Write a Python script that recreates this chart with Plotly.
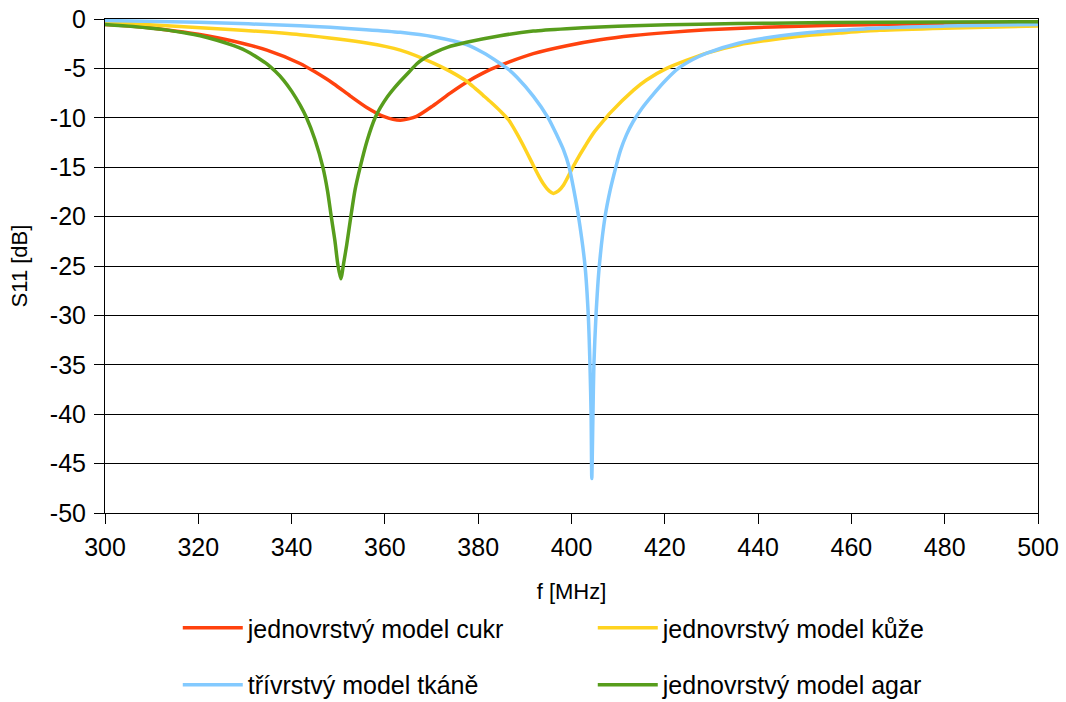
import plotly.graph_objects as go

# Return loss S11 [dB] versus frequency for four phantom models
f_cukr = [300, 306, 313, 320, 327.6, 334.7, 341.8, 345, 349, 352.6, 356.1, 359.7,
          363.3, 366.8, 370.4, 374, 377.5, 381.1, 384.7, 391.8, 399, 406.1, 413.3,
          420.4, 429, 443, 466, 480, 500]
s11_cukr = [-0.55, -0.74, -1.08, -1.55, -2.25, -3.15, -4.5, -5.35, -6.55, -7.8, -8.95, -9.85,
            -10.25, -9.85, -8.75, -7.5, -6.4, -5.45, -4.7, -3.5, -2.7, -2.1, -1.68,
            -1.38, -1.1, -0.8, -0.56, -0.48, -0.42]

f_kuze = [300, 313.3, 327.6, 341.8, 356.1, 363.3, 370.4, 374, 377.5, 379.3, 381, 382.8,
          384.7, 386.5, 388.3, 390, 391.8, 393, 394, 395.2, 396.1, 397.2, 398.3, 400.3,
          401.1, 403, 404.7, 407.4, 408.3, 413.3, 416, 420.4, 429, 436, 443, 450, 457.5,
          466, 480, 500]
s11_kuze = [-0.34, -0.68, -1.08, -1.59, -2.43, -3.15, -4.46, -5.3, -6.3, -7.0, -7.7, -8.45,
            -9.3, -10.2, -11.6, -13.1, -14.8, -15.9, -16.7, -17.4, -17.65, -17.4, -16.8, -15,
            -14.3, -12.8, -11.55, -10, -9.5, -7.2, -6.2, -5.0, -3.45, -2.6, -2.09, -1.69,
            -1.42, -1.15, -0.93, -0.72]

f_tkane = [300, 320, 341.8, 356, 363.3, 370.4, 377.5, 381, 384.7, 386.5, 388.3, 391.8,
           395, 397, 398.25, 399.5, 400.5, 401.5, 402.9, 403.6, 403.96, 404.2, 404.35,
           404.6, 404.8, 405.25, 405.96, 407.2, 408.3, 409.5, 410.5, 411.8, 413.2, 415,
           417.2, 420.4, 422.9, 426, 429, 436, 443, 450, 457.5, 466, 480, 500]
s11_tkane = [-0.15, -0.34, -0.68, -1.08, -1.35, -1.8, -2.6, -3.4, -4.5, -5.1, -5.9, -7.8,
             -10, -11.9, -13.2, -15, -17.3, -20, -25, -30, -35, -40, -46.5,
             -40, -35, -30, -25, -20, -17.3, -15, -13.3, -11.7, -10.4, -9.1,
             -7.8, -6.1, -5.0, -4.1, -3.45, -2.43, -1.82, -1.42, -1.15, -0.9, -0.72, -0.55]

f_agar = [300, 306, 313, 317, 320.4, 324, 327.6, 329.5, 331.1, 333, 334.7, 336.5, 338.3,
          340, 341.8, 343.2, 345, 346.7, 347.7, 348.5, 349.3, 349.9, 350.55, 351.2, 351.8,
          352.7, 353.6, 354.7, 356.2, 357.9, 359, 360.5, 362, 363.3, 365.7, 366.8, 368.5,
          370.4, 373.5, 377.5, 384.7, 391.8, 399, 406.1, 413.3, 427.5, 443, 466, 500]
s11_agar = [-0.55, -0.75, -1.1, -1.4, -1.7, -2.15, -2.7, -3.05, -3.45, -4.0, -4.55, -5.3,
            -6.2, -7.3, -8.7, -10, -12.2, -15, -17.4, -20, -22.5, -24.8, -26.3, -24.6,
            -22.9, -20, -17.3, -15, -12.3, -10, -9.0, -7.9, -7.0, -6.3, -5.1, -4.55, -3.95,
            -3.45, -2.85, -2.36, -1.69, -1.22, -0.98, -0.81, -0.68, -0.52, -0.42, -0.32, -0.28]

x_ticks = [300, 320, 340, 360, 380, 400, 420, 440, 460, 480, 500]
y_ticks = [0, -5, -10, -15, -20, -25, -30, -35, -40, -45, -50]
y_tick_labels = ["0", "-5", "-10", "-15", "-20", "-25", "-30", "-35", "-40", "-45", "-50"]

FONT = "Liberation Sans, Arial, sans-serif"

series = [
    ("jednovrstvý model cukr", f_cukr, s11_cukr, "#ff420e", "legend"),
    ("jednovrstvý model kůže", f_kuze, s11_kuze, "#ffd320", "legend"),
    ("třívrstvý model tkáně", f_tkane, s11_tkane, "#83caff", "legend2"),
    ("jednovrstvý model agar", f_agar, s11_agar, "#579d1c", "legend2"),
]

fig = go.Figure()
for name, fx, fy, color, leg in series:
    fig.add_trace(go.Scatter(
        x=fx, y=fy, name=name, mode="lines", legend=leg,
        line=dict(color=color, width=3.5, shape="spline", smoothing=0.7),
    ))

axis_common = dict(
    showline=True, linecolor="black", linewidth=1, mirror=True,
    ticks="outside", ticklen=10, tickcolor="black", tickwidth=1,
    tickfont=dict(family=FONT, size=25, color="black"),
    zeroline=False, automargin=False,
)

fig.update_xaxes(
    range=[300, 500], tickvals=x_ticks, showgrid=False, ticklabelstandoff=2,
    title=dict(text="f [MHz]", font=dict(family=FONT, size=22, color="black"), standoff=23),
    **axis_common,
)
fig.update_yaxes(
    range=[-50, 0], tickvals=y_ticks, ticktext=y_tick_labels,
    showgrid=True, gridcolor="black", gridwidth=1, ticklabelstandoff=3,
    title=dict(text="S11 [dB]", font=dict(family=FONT, size=22, color="black"), standoff=16),
    **axis_common,
)

# two one-row legends, two entries each
legend_common = dict(
    orientation="h", xanchor="left", yanchor="middle", x=0.078,
    font=dict(family=FONT, size=25, color="black"),
    entrywidth=340, entrywidthmode="pixels", itemwidth=60,
    bgcolor="rgba(0,0,0,0)", traceorder="normal",
)

fig.update_layout(
    width=1066, height=702,
    margin=dict(l=105, r=28, t=19, b=189, autoexpand=False),
    paper_bgcolor="white", plot_bgcolor="white",
    font=dict(family=FONT, color="black"),
    showlegend=True,
    legend=dict(y=-0.2328, **legend_common),
    legend2=dict(y=-0.348, **legend_common),
)

fig.write_html("out.html")
